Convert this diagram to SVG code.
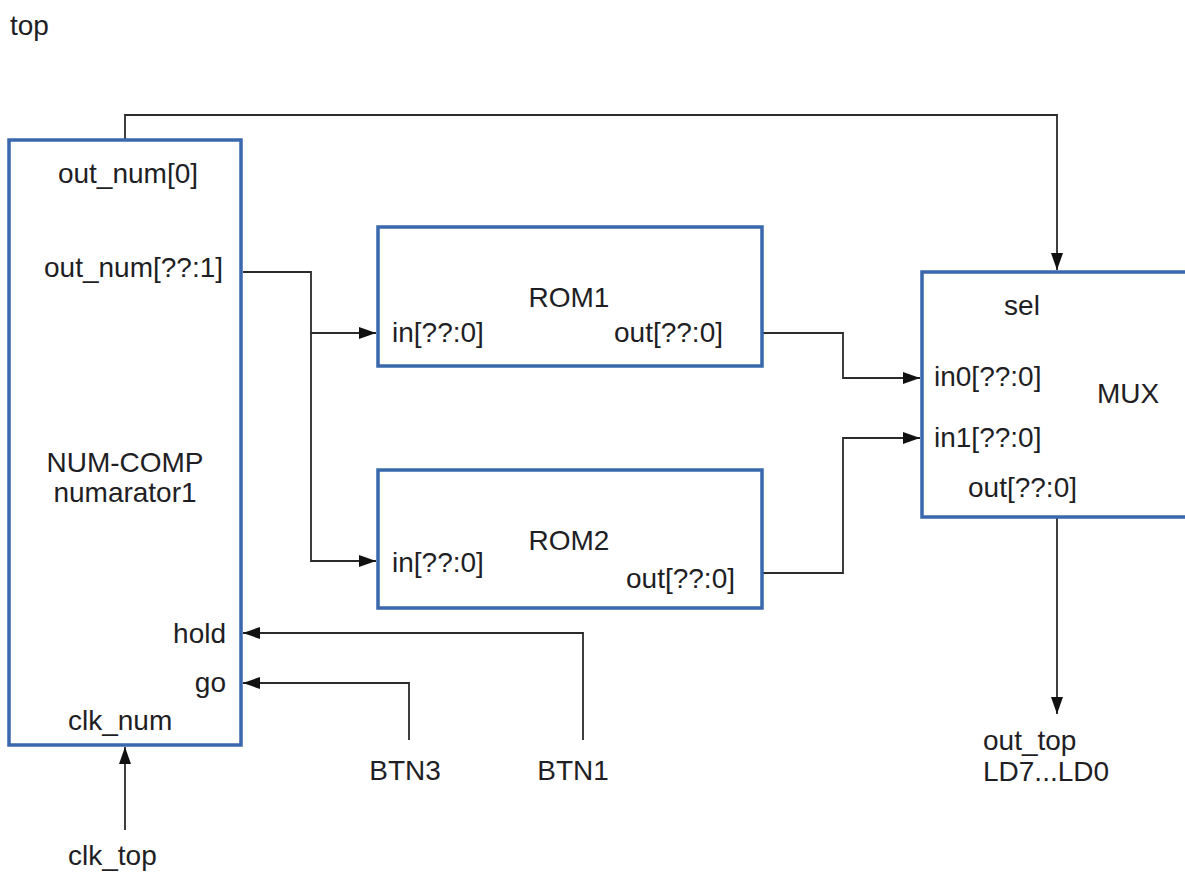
<svg xmlns="http://www.w3.org/2000/svg" width="1185" height="892" viewBox="0 0 1185 892">
<style>
text{font-family:"Liberation Sans",Arial,sans-serif;font-size:28px;fill:#1e1e24}
.box{fill:#fff;stroke:#3a68ad;stroke-width:3.5}
.w{fill:none;stroke:#2b2b2b;stroke-width:1.8}
.m{text-anchor:middle}
.e{text-anchor:end}
</style>
<defs>
<marker id="ah" markerUnits="userSpaceOnUse" markerWidth="18" markerHeight="14" refX="17" refY="7" orient="auto">
<path d="M0,1 L17,7 L0,13 Z" fill="#111"/>
</marker>
</defs>
<rect width="1185" height="892" fill="#fff"/>
<text x="10" y="35">top</text>
<g id="connectors">
<path class="w" d="M125,140 V115 H1057 V270" marker-end="url(#ah)"/>
<path class="w" d="M243,272 H311 V333 H376" marker-end="url(#ah)"/>
<path class="w" d="M311,333 V561 H376" marker-end="url(#ah)"/>
<path class="w" d="M763,333 H843 V378 H920" marker-end="url(#ah)"/>
<path class="w" d="M763,573 H843 V438 H920" marker-end="url(#ah)"/>
<path class="w" d="M1057,518 V714" marker-end="url(#ah)"/>
<path class="w" d="M583,740 V633 H243" marker-end="url(#ah)"/>
<path class="w" d="M409,740 V683 H243" marker-end="url(#ah)"/>
<path class="w" d="M125,830 V747" marker-end="url(#ah)"/>
</g>
<g id="numcomp">
<rect class="box" x="9" y="140" width="232" height="605"/>
<text class="m" x="128" y="183">out_num[0]</text>
<text x="44" y="277">out_num[??:1]</text>
<text class="m" x="125" y="472">NUM-COMP</text>
<text class="m" x="125" y="502">numarator1</text>
<text class="e" x="226" y="643">hold</text>
<text class="e" x="226" y="692">go</text>
<text x="68" y="730">clk_num</text>
</g>
<g id="rom1">
<rect class="box" x="378" y="227" width="384" height="139"/>
<text class="m" x="569" y="307">ROM1</text>
<text x="392" y="342">in[??:0]</text>
<text x="614" y="342">out[??:0]</text>
</g>
<g id="rom2">
<rect class="box" x="378" y="470" width="384" height="138"/>
<text class="m" x="569" y="550">ROM2</text>
<text x="392" y="572">in[??:0]</text>
<text x="626" y="588">out[??:0]</text>
</g>
<g id="mux">
<rect class="box" x="922" y="272" width="290" height="245"/>
<text class="m" x="1022" y="315">sel</text>
<text x="934" y="386">in0[??:0]</text>
<text class="m" x="1128" y="403">MUX</text>
<text x="934" y="447">in1[??:0]</text>
<text x="968" y="497">out[??:0]</text>
</g>
<g id="btn3"><text class="m" x="405" y="780">BTN3</text></g>
<g id="btn1"><text class="m" x="573" y="780">BTN1</text></g>
<g id="outtop">
<text x="983" y="750">out_top</text>
<text x="983" y="781">LD7...LD0</text>
</g>
<g id="clktop"><text x="68" y="865">clk_top</text></g>
</svg>
